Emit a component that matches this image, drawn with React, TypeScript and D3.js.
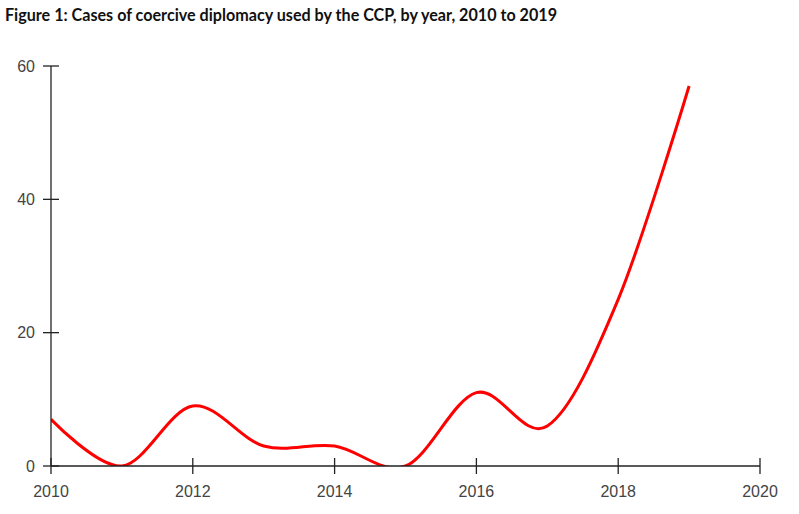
import { scaleLinear, line, curveCardinal } from "d3";

const years = [2010, 2011, 2012, 2013, 2014, 2015, 2016, 2017, 2018, 2019];
const cases = [7, 0, 9, 3, 3, 0, 11, 6, 25, 57];
const xTicks = [2010, 2012, 2014, 2016, 2018, 2020];
const yTicks = [0, 20, 40, 60];

const width = 799;
const height = 514;
const margin = { top: 66, bottom: 48, left: 51, right: 39 };

const innerHeight = height - margin.top - margin.bottom;
const innerWidth = width - margin.left - margin.right;

export default function App() {
  const xScale = scaleLinear().domain([2010, 2020]).range([0, innerWidth]);
  const yScale = scaleLinear().domain([0, 60]).range([innerHeight, 0]);

  const path = line<number>()
    .x((_, i) => xScale(years[i]))
    .y((d) => yScale(d))
    .curve(curveCardinal)(cases);

  return (
    <svg
      width={width}
      height={height}
      style={{ position: "absolute", left: 0, top: 0, background: "#fff" }}
    >
      <text
        x={5}
        y={21}
        fontFamily="Lato, sans-serif"
        fontWeight={700}
        fontSize={16.5}
        fill="#111"
        textLength={552}
        lengthAdjust="spacingAndGlyphs"
      >
        Figure 1: Cases of coercive diplomacy used by the CCP, by year, 2010 to 2019
      </text>
      <defs>
        <clipPath id="plot">
          <rect x={0} y={-10} width={innerWidth} height={innerHeight + 10} />
        </clipPath>
      </defs>
      <g transform={`translate(${margin.left}, ${margin.top})`}>
        <path
          d={path ?? ""}
          fill="none"
          stroke="#ff0000"
          strokeWidth={3}
          clipPath="url(#plot)"
        />
        {/* y axis */}
        <line y1={0} y2={innerHeight} stroke="#222" strokeWidth={1.3} />
        {yTicks.map((t) => (
          <g key={t} transform={`translate(0, ${yScale(t)})`}>
            <line x1={-8} x2={8} stroke="#222" strokeWidth={1.3} />
            <text
              x={-16}
              dy="0.36em"
              textAnchor="end"
              fontFamily="'Liberation Sans', Arial, sans-serif"
              fontSize={16}
              fill="#444"
            >
              {t}
            </text>
          </g>
        ))}
        {/* x axis */}
        <line x1={0} x2={innerWidth} y1={innerHeight} y2={innerHeight} stroke="#222" strokeWidth={1.3} />
        {xTicks.map((t) => (
          <g key={t} transform={`translate(${xScale(t)}, ${innerHeight})`}>
            <line y1={-8} y2={8} stroke="#222" strokeWidth={1.3} />
            <text
              y={31}
              textAnchor="middle"
              fontFamily="'Liberation Sans', Arial, sans-serif"
              fontSize={16}
              fill="#444"
            >
              {t}
            </text>
          </g>
        ))}
      </g>
    </svg>
  );
}
